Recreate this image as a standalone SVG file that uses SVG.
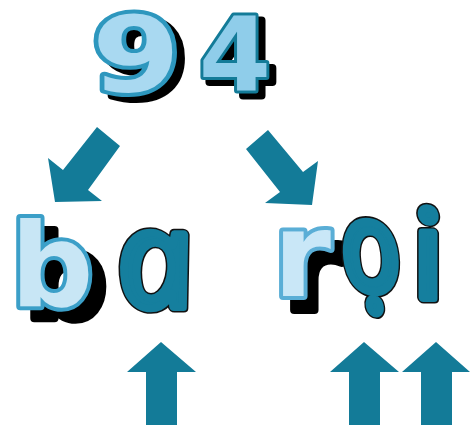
<svg xmlns="http://www.w3.org/2000/svg" width="470" height="429" viewBox="0 0 470 429">
<style>
.bub{font-family:"DejaVu Sans",sans-serif;font-weight:bold;text-anchor:middle;paint-order:stroke;stroke-linejoin:round}
.sh{fill:#000;stroke:#000;stroke-width:8}
.hand{font-family:"Noto Sans",sans-serif;font-style:italic;text-anchor:middle;stroke-linejoin:round}
.ho{fill:#111;stroke:#111;stroke-width:11}
.hi{fill:#157f9e;stroke:#157f9e;stroke-width:8}
.arr{fill:#137b98}
</style>
<rect width="470" height="429" fill="#fff"/>
<g id="n94">
<text class="bub sh" x="0" y="0" font-size="106" transform="translate(144,98) scale(1.2,1)">9</text>
<text class="bub" x="0" y="0" font-size="106" fill="#a9d9f1" stroke="#2d97be" stroke-width="8" transform="translate(136,92) scale(1.2,1)">9</text>
<text class="bub sh" x="241" y="96" font-size="104">4</text>
<text class="bub" x="235" y="91" font-size="104" fill="#8fcdea" stroke="#137b98" stroke-width="6">4</text>
</g>
<g id="connectors">
<polygon class="arr" points="97,127 120,146 88,190 102,201 55,202 48,158 63,170"/>
<polygon class="arr" points="268,130 303,172 318,161 312,205 265,203 280,192 246,149"/>
<polygon class="arr" points="161,342 196,372 177,372 177,425 146,425 146,372 127,372"/>
<polygon class="arr" points="364,342 399,372 380,372 380,425 349,425 349,372 330,372"/>
<polygon class="arr" points="436,342 470,372 452,372 452,425 421,425 421,372 402,372"/>
</g>
<g id="nb">
<text class="bub sh" x="66" y="318" font-size="116">b</text>
<text class="bub" x="52" y="306" font-size="116" fill="#c8e6f5" stroke="#3b9fc8" stroke-width="8">b</text>
</g>
<g id="na" transform="translate(162,307) skewX(11)">
<text class="hand ho" x="0" y="0" font-size="136">a</text>
<text class="hand hi" x="0" y="0" font-size="136">a</text>
</g>
<g id="nr">
<text class="bub sh" x="313" y="310" font-size="117">r</text>
<text class="bub" x="302" y="296" font-size="117" fill="#c9e7f7" stroke="#5aaed6" stroke-width="8">r</text>
</g>
<g id="noi">
<g transform="translate(378,291) skewX(12) scale(0.88,1.06)">
<text class="hand ho" x="0" y="0" font-size="120">ọ</text>
<text class="hand hi" x="0" y="0" font-size="120">ọ</text>
</g>
<g transform="translate(435,298) skewX(12)">
<text class="hand ho" x="0" y="0" font-size="122">i</text>
<text class="hand hi" x="0" y="0" font-size="122">i</text>
</g>
</g>
</svg>
